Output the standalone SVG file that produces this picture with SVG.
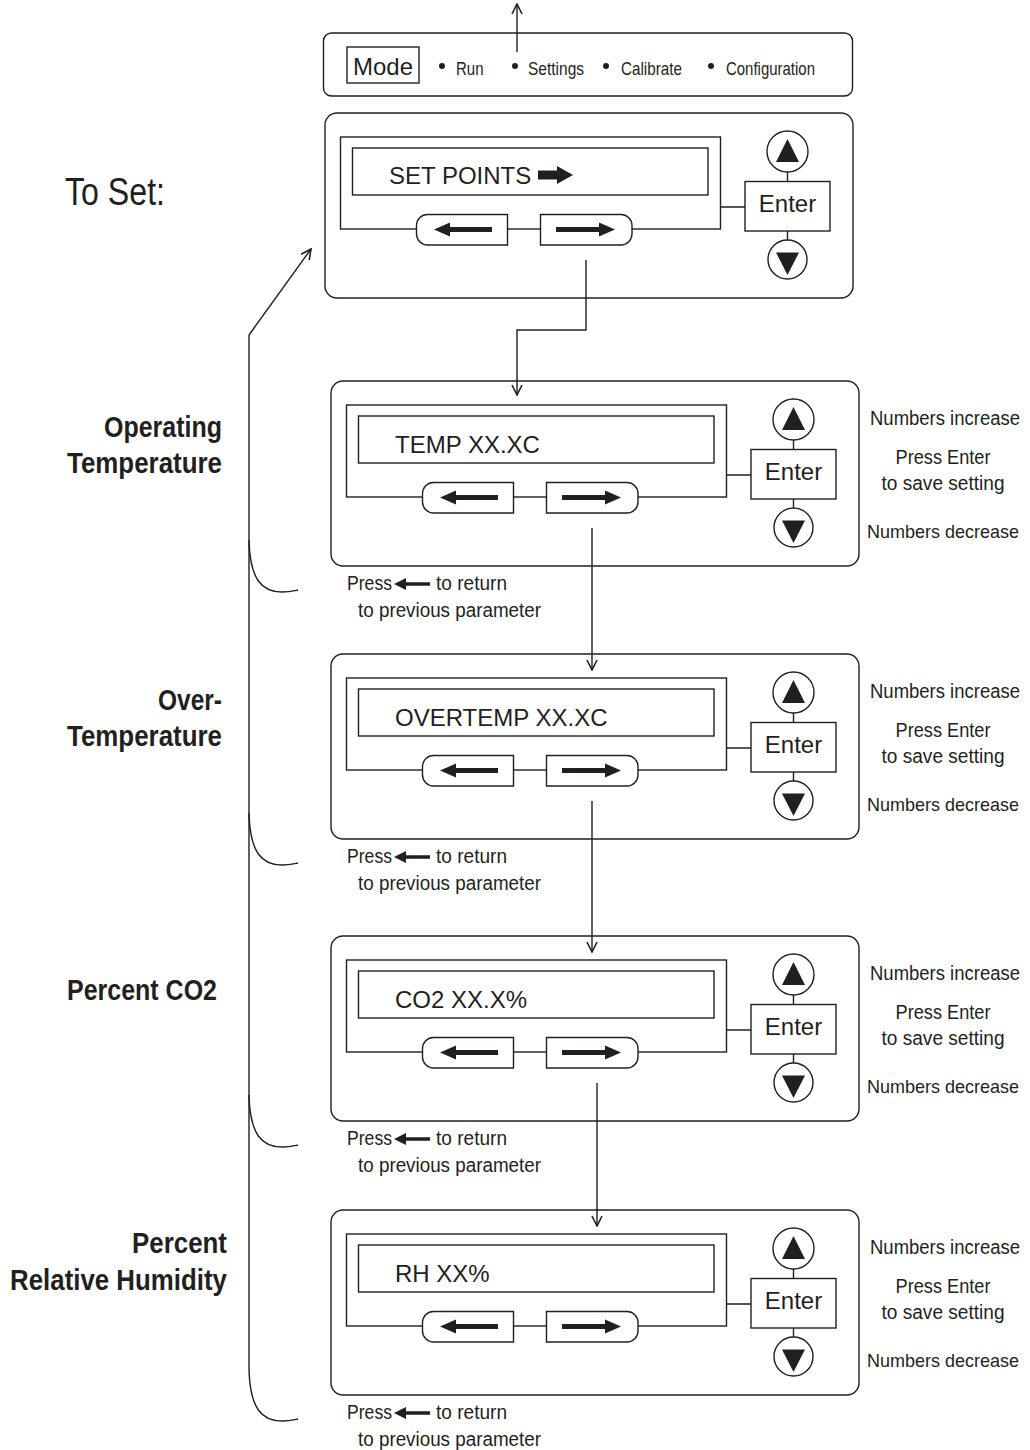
<svg xmlns="http://www.w3.org/2000/svg" xmlns:xlink="http://www.w3.org/1999/xlink" width="1030" height="1450" viewBox="0 0 1030 1450">
<style>
  .ln{fill:none;stroke:#231f20;stroke-width:1.4}
  .box{fill:#fff;stroke:#231f20;stroke-width:1.4}
  .blk{fill:#231f20;stroke:none}
  .lcd{font-family:"Liberation Sans",Arial,sans-serif;font-size:24px;fill:#231f20}
  .cond{font-family:"Liberation Sans",Arial,sans-serif;fill:#231f20}
  .note{font-size:19.5px}
  .nd{font-size:18.5px}
  .mode{font-size:19px}
  .lbl{font-size:29px;font-weight:bold;text-anchor:end}
  .mid{text-anchor:middle}
</style>
<defs>
  <marker id="open" viewBox="0 0 12 12" refX="11" refY="6" markerWidth="12" markerHeight="12" markerUnits="userSpaceOnUse" orient="auto">
    <path d="M1,1 L11,6 L1,11" fill="none" stroke="#231f20" stroke-width="1.6"/>
  </marker>
  <g id="keypad">
    <rect class="box" x="15.5" y="24" width="380" height="92"/>
    <rect class="box" x="27.5" y="35" width="355.5" height="47"/>
    <path class="box" d="M182.5,101.5 H102.5 A11,11 0 0 0 91.5,112.5 V121 A11,11 0 0 0 102.5,132 H182.5 Z"/>
    <path class="box" d="M215.5,101.5 H296 A11,11 0 0 1 307,112.5 V121 A11,11 0 0 1 296,132 H215.5 Z"/>
    <path class="blk" d="M109,116.5 L125,109.5 L125,114 L167,114 L167,119 L125,119 L125,123.5 Z"/>
    <path class="blk" d="M290,116.5 L274,109.5 L274,114 L231,114 L231,119 L274,119 L274,123.5 Z"/>
    <path class="ln" d="M395.5,94 H420 M462.5,59 V68.5 M462.5,118 V127"/>
    <rect class="box" x="420" y="68.5" width="85" height="49.5"/>
    <circle class="box" cx="462.5" cy="38.5" r="20.5"/>
    <circle class="box" cx="462.5" cy="146.5" r="19.5"/>
    <path class="blk" d="M462.5,26 L474,49 L451,49 Z"/>
    <path class="blk" d="M451,139.5 L474,139.5 L462.5,162 Z"/>
  </g>
  <path id="pressArrow" class="blk" d="M0,0 L12,-6 L12,-1.8 L36,-1.8 L36,1.8 L12,1.8 L12,6 Z"/>
</defs>

<rect width="1030" height="1450" fill="#fff"/>

<g id="mode-bar">
  <rect class="box" x="323.5" y="33" width="529" height="63" rx="8"/>
  <rect class="box" x="347" y="47" width="72" height="36"/>
  <text class="lcd mid" x="383" y="75" font-size="23">Mode</text>
  <circle class="blk" cx="442" cy="66" r="3"/>
  <text class="cond mode" x="456" y="75" textLength="27.5" lengthAdjust="spacingAndGlyphs">Run</text>
  <circle class="blk" cx="515" cy="66" r="3"/>
  <text class="cond mode" x="528" y="75" textLength="56" lengthAdjust="spacingAndGlyphs">Settings</text>
  <circle class="blk" cx="606" cy="66" r="3"/>
  <text class="cond mode" x="621" y="75" textLength="61" lengthAdjust="spacingAndGlyphs">Calibrate</text>
  <circle class="blk" cx="711" cy="66" r="3"/>
  <text class="cond mode" x="726" y="75" textLength="89" lengthAdjust="spacingAndGlyphs">Configuration</text>
</g>

<g id="title">
  <text class="cond" x="65" y="205" font-size="38" textLength="100" lengthAdjust="spacingAndGlyphs">To Set:</text>
</g>

<g id="panel-setpoints" transform="translate(325,113)">
  <rect class="box" x="0" y="0" width="528" height="185" rx="12"/>
  <use xlink:href="#keypad" href="#keypad"/>
  <text class="lcd" x="64" y="71">SET POINTS</text>
  <path class="blk" d="M213,57.5 L232,57.5 L232,53 L248,62 L232,71 L232,66.5 L213,66.5 Z"/>
  <text class="lcd mid" x="462.5" y="99">Enter</text>
</g>

<g id="panel-temp" transform="translate(331,381)">
  <rect class="box" x="0" y="0" width="528" height="185" rx="12"/>
  <use xlink:href="#keypad" href="#keypad"/>
  <text class="lcd" x="64" y="71.5">TEMP XX.XC</text>
  <text class="lcd mid" x="462.5" y="99">Enter</text>
</g>
<g id="label-temp">
  <text class="cond lbl" x="222" y="437" textLength="118" lengthAdjust="spacingAndGlyphs">Operating</text>
  <text class="cond lbl" x="222" y="473" textLength="155" lengthAdjust="spacingAndGlyphs">Temperature</text>
</g>
<g id="notes-temp">
  <text class="cond note mid" x="945" y="425" textLength="150" lengthAdjust="spacingAndGlyphs">Numbers increase</text>
  <text class="cond note mid" x="943" y="464" textLength="95" lengthAdjust="spacingAndGlyphs">Press Enter</text>
  <text class="cond note mid" x="943" y="490" textLength="123" lengthAdjust="spacingAndGlyphs">to save setting</text>
  <text class="cond note nd mid" x="943" y="538" textLength="152" lengthAdjust="spacingAndGlyphs">Numbers decrease</text>
  <text class="cond note" x="347" y="590" textLength="45" lengthAdjust="spacingAndGlyphs">Press</text>
  <use xlink:href="#pressArrow" href="#pressArrow" x="394" y="584"/>
  <text class="cond note" x="436" y="590" textLength="71" lengthAdjust="spacingAndGlyphs">to return</text>
  <text class="cond note" x="358" y="617" textLength="183" lengthAdjust="spacingAndGlyphs">to previous parameter</text>
</g>

<g id="panel-overtemp" transform="translate(331,654)">
  <rect class="box" x="0" y="0" width="528" height="185" rx="12"/>
  <use xlink:href="#keypad" href="#keypad"/>
  <text class="lcd" x="64" y="71.5">OVERTEMP XX.XC</text>
  <text class="lcd mid" x="462.5" y="99">Enter</text>
</g>
<g id="label-overtemp">
  <text class="cond lbl" x="222" y="710" textLength="64" lengthAdjust="spacingAndGlyphs">Over-</text>
  <text class="cond lbl" x="222" y="746" textLength="155" lengthAdjust="spacingAndGlyphs">Temperature</text>
</g>
<g id="notes-overtemp">
  <text class="cond note mid" x="945" y="698" textLength="150" lengthAdjust="spacingAndGlyphs">Numbers increase</text>
  <text class="cond note mid" x="943" y="737" textLength="95" lengthAdjust="spacingAndGlyphs">Press Enter</text>
  <text class="cond note mid" x="943" y="763" textLength="123" lengthAdjust="spacingAndGlyphs">to save setting</text>
  <text class="cond note nd mid" x="943" y="811" textLength="152" lengthAdjust="spacingAndGlyphs">Numbers decrease</text>
  <text class="cond note" x="347" y="863" textLength="45" lengthAdjust="spacingAndGlyphs">Press</text>
  <use xlink:href="#pressArrow" href="#pressArrow" x="394" y="857"/>
  <text class="cond note" x="436" y="863" textLength="71" lengthAdjust="spacingAndGlyphs">to return</text>
  <text class="cond note" x="358" y="890" textLength="183" lengthAdjust="spacingAndGlyphs">to previous parameter</text>
</g>

<g id="panel-co2" transform="translate(331,936)">
  <rect class="box" x="0" y="0" width="528" height="185" rx="12"/>
  <use xlink:href="#keypad" href="#keypad"/>
  <text class="lcd" x="64" y="71.5">CO2 XX.X%</text>
  <text class="lcd mid" x="462.5" y="99">Enter</text>
</g>
<g id="label-co2">
  <text class="cond lbl" x="217" y="1000" textLength="150" lengthAdjust="spacingAndGlyphs">Percent CO2</text>
</g>
<g id="notes-co2">
  <text class="cond note mid" x="945" y="980" textLength="150" lengthAdjust="spacingAndGlyphs">Numbers increase</text>
  <text class="cond note mid" x="943" y="1019" textLength="95" lengthAdjust="spacingAndGlyphs">Press Enter</text>
  <text class="cond note mid" x="943" y="1045" textLength="123" lengthAdjust="spacingAndGlyphs">to save setting</text>
  <text class="cond note nd mid" x="943" y="1093" textLength="152" lengthAdjust="spacingAndGlyphs">Numbers decrease</text>
  <text class="cond note" x="347" y="1145" textLength="45" lengthAdjust="spacingAndGlyphs">Press</text>
  <use xlink:href="#pressArrow" href="#pressArrow" x="394" y="1139"/>
  <text class="cond note" x="436" y="1145" textLength="71" lengthAdjust="spacingAndGlyphs">to return</text>
  <text class="cond note" x="358" y="1172" textLength="183" lengthAdjust="spacingAndGlyphs">to previous parameter</text>
</g>

<g id="panel-rh" transform="translate(331,1210)">
  <rect class="box" x="0" y="0" width="528" height="185" rx="12"/>
  <use xlink:href="#keypad" href="#keypad"/>
  <text class="lcd" x="64" y="71.5">RH XX%</text>
  <text class="lcd mid" x="462.5" y="99">Enter</text>
</g>
<g id="label-rh">
  <text class="cond lbl" x="227" y="1253" textLength="95" lengthAdjust="spacingAndGlyphs">Percent</text>
  <text class="cond lbl" x="227" y="1290" textLength="217" lengthAdjust="spacingAndGlyphs">Relative Humidity</text>
</g>
<g id="notes-rh">
  <text class="cond note mid" x="945" y="1254" textLength="150" lengthAdjust="spacingAndGlyphs">Numbers increase</text>
  <text class="cond note mid" x="943" y="1293" textLength="95" lengthAdjust="spacingAndGlyphs">Press Enter</text>
  <text class="cond note mid" x="943" y="1319" textLength="123" lengthAdjust="spacingAndGlyphs">to save setting</text>
  <text class="cond note nd mid" x="943" y="1367" textLength="152" lengthAdjust="spacingAndGlyphs">Numbers decrease</text>
  <text class="cond note" x="347" y="1419" textLength="45" lengthAdjust="spacingAndGlyphs">Press</text>
  <use xlink:href="#pressArrow" href="#pressArrow" x="394" y="1413"/>
  <text class="cond note" x="436" y="1419" textLength="71" lengthAdjust="spacingAndGlyphs">to return</text>
  <text class="cond note" x="358" y="1446" textLength="183" lengthAdjust="spacingAndGlyphs">to previous parameter</text>
</g>

<g id="connectors">
  <path class="ln" d="M517,52 V4" marker-end="url(#open)"/>
  <path class="ln" d="M586,260 V330 H517 V395" marker-end="url(#open)"/>
  <path class="ln" d="M592,528 V670" marker-end="url(#open)"/>
  <path class="ln" d="M592,801 V952" marker-end="url(#open)"/>
  <path class="ln" d="M597,1083 V1226" marker-end="url(#open)"/>
  <path class="ln" d="M249,335 L311,249" marker-end="url(#open)"/>
  <path class="ln" d="M249,335 V1369 C250,1409 262,1421 282,1421 C289,1421 293,1420 298,1419"/>
  <path class="ln" d="M249,540 C250,580 262,592 282,592 C289,592 293,591 298,590"/>
  <path class="ln" d="M249,813 C250,853 262,865 282,865 C289,865 293,864 298,863"/>
  <path class="ln" d="M249,1095 C250,1135 262,1147 282,1147 C289,1147 293,1146 298,1145"/>
</g>
</svg>
